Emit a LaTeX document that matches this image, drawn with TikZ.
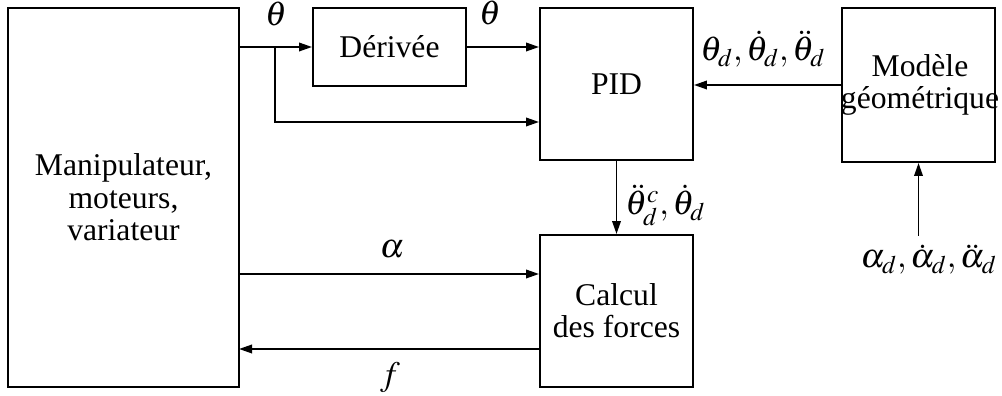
\documentclass[tikz,border=0pt]{standalone}
\usepackage{mathptmx}
\usepackage[no-math]{fontspec}
\setmainfont{Liberation Serif}
\usetikzlibrary{arrows.meta}
\tikzset{blk/.style={draw,line width=1.1pt,align=center,inner sep=0pt},
  sig/.style={line width=1.1pt,-{Triangle[length=0.26cm,width=0.17cm]}},
  lbl/.style={inner sep=0pt,font=\fontsize{19.5}{20}\selectfont}}

\begin{document}
\begin{tikzpicture}[font=\fontsize{18}{18.4}\selectfont]
\useasboundingbox(0,0)rectangle(20.04,7.92);
\node[blk,minimum width=4.62cm,minimum height=7.58cm](man)at(2.47,3.97){Manipulateur,\\moteurs,\\variateur};
\node[blk,minimum width=3.06cm,minimum height=1.56cm](der)at(7.79,6.98){Dérivée};
\node[blk,minimum width=3.06cm,minimum height=3.04cm](pid)at(12.33,6.24){PID};
\node[blk,minimum width=3.06cm,minimum height=3.08cm](geo)at(18.37,6.22){};
\node[align=center,inner sep=0pt](geot)at(18.4,6.22){Modèle\\géométrique};
\node[blk,minimum width=3.06cm,minimum height=3.04cm](calc)at(12.33,1.70){Calcul\\des forces};
\node[lbl,anchor=base east](ad)at(19.94,2.56){$\alpha_d,\dot{\alpha}_d,\ddot{\alpha}_d$};
\coordinate(br)at(5.5,6.98);\coordinate(al)at(4.78,2.44);\coordinate(fo)at(4.78,0.94);\coordinate(adin)at(18.37,3.2);
\draw[sig](man.east|-der.west)--(der.west);\draw[sig](br)|-(pid.west|-0,5.48);\draw[sig](der.east)--(pid.west|-der.east);
\draw[sig](geo.west)--(pid.east|-geo.west);\draw[sig](pid.south)--(calc.north);\draw[sig](adin)--(geo.south);
\draw[sig](al)--(calc.west|-al);\draw[sig](calc.west|-fo)--(fo);
\node[lbl,anchor=base](th1)at(5.52,7.4){$\theta$};\node[lbl,anchor=base](th2)at(9.8,7.42){$\dot{\theta}$};
\node[lbl,anchor=base west](thd)at(14.0,6.7){$\theta_d,\dot{\theta}_d,\ddot{\theta}_d$};
\node[lbl,anchor=base west](thc)at(12.5,3.62){$\ddot{\theta}_d^c,\dot{\theta}_d$};
\node[lbl,anchor=base](alf)at(7.84,2.76){$\alpha$};\node[lbl,anchor=base](frc)at(7.8,0.2){$f$};
\end{tikzpicture}
\end{document}
